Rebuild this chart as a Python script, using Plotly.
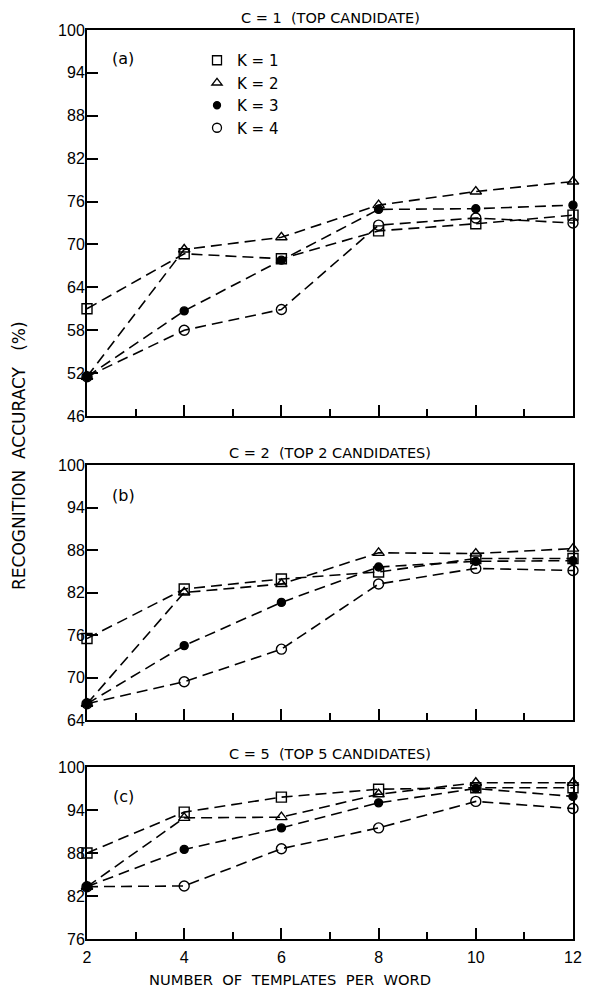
import plotly.graph_objects as go

x_templates = [2, 4, 6, 8, 10, 12]

# Panel (a): C = 1
a_k1 = [61.0, 68.7, 68.0, 71.9, 72.9, 74.1]
a_k2 = [51.5, 69.3, 71.0, 75.5, 77.4, 78.8]
a_k3 = [51.5, 60.7, 67.8, 74.9, 75.0, 75.5]
a_k4 = [51.5, 58.0, 60.9, 72.7, 73.7, 73.0]

# Panel (b): C = 2
b_k1 = [75.5, 82.5, 83.9, 84.9, 86.8, 86.8]
b_k2 = [66.3, 82.0, 83.2, 87.6, 87.5, 88.2]
b_k3 = [66.3, 74.5, 80.6, 85.6, 86.4, 86.5]
b_k4 = [66.3, 69.4, 74.0, 83.2, 85.4, 85.1]

# Panel (c): C = 5
c_k1 = [88.0, 93.7, 95.8, 96.9, 97.1, 97.1]
c_k2 = [83.3, 92.9, 93.0, 96.2, 97.8, 97.8]
c_k3 = [83.3, 88.5, 91.5, 95.0, 97.0, 95.9]
c_k4 = [83.3, 83.4, 88.6, 91.5, 95.2, 94.2]

series_names = ["K = 1", "K = 2", "K = 3", "K = 4"]
panel_titles = ["C = 1  (TOP CANDIDATE)", "C = 2  (TOP 2 CANDIDATES)", "C = 5  (TOP 5 CANDIDATES)"]
panel_labels = ["(a)", "(b)", "(c)"]
y_ticks_a = [46, 52, 58, 64, 70, 76, 82, 88, 94, 100]
y_ticks_b = [64, 70, 76, 82, 88, 94, 100]
y_ticks_c = [76, 82, 88, 94, 100]
x_ticks = [2, 4, 6, 8, 10, 12]

panels = [
    [a_k1, a_k2, a_k3, a_k4],
    [b_k1, b_k2, b_k3, b_k4],
    [c_k1, c_k2, c_k3, c_k4],
]
y_ticks = [y_ticks_a, y_ticks_b, y_ticks_c]

FONT = "Liberation Sans, Arial, sans-serif"
TFONT = "DejaVu Sans, sans-serif"
symbols = ["square-open", "triangle-up-open", "circle", "circle-open"]
msizes = [10, 10, 8, 10]

# page is offset by the body margin (8px); work in page pixels
OFF = 8
W, H = 600, 995
ml = 87 - OFF
mr = W - (573 - OFF)
mt = 30 - OFF
mb = H - (939 - OFF)
ph = H - mt - mb
pw = W - ml - mr

def py(pix):
    return (H - mb - (pix - OFF)) / ph

def px(pix):
    return (pix - OFF - ml) / pw

domains = [
    [py(416), py(30)],
    [py(720), py(465)],
    [py(939), py(767)],
]

fig = go.Figure()
for i, series in enumerate(panels):
    xa = "x" if i == 0 else f"x{i+1}"
    ya = "y" if i == 0 else f"y{i+1}"
    for k, vals in enumerate(series):
        fig.add_trace(go.Scatter(
            x=x_templates, y=vals, xaxis=xa, yaxis=ya,
            mode="lines+markers", showlegend=False, cliponaxis=False,
            line=dict(color="black", width=1.6, dash="11px,6px"),
            marker=dict(symbol=symbols[k], size=msizes[k], color="black",
                        line=dict(color="black", width=1.4)),
        ))

# legend-only entries (markers only)
for k, name in enumerate(series_names):
    fig.add_trace(go.Scatter(
        x=[None], y=[None], mode="markers", name=name,
        marker=dict(symbol=symbols[k], size=msizes[k] - 1, color="black",
                    line=dict(color="black", width=1.3)),
    ))

layout = dict(
    width=W, height=H,
    margin=dict(l=ml, r=mr, t=mt, b=mb),
    paper_bgcolor="white", plot_bgcolor="white",
    font=dict(family=FONT, size=15, color="black"),
    showlegend=True,
    legend=dict(x=px(197), y=py(44), xanchor="left", yanchor="top",
                font=dict(family=TFONT, size=15), itemwidth=30, tracegroupgap=0,
                bgcolor="rgba(0,0,0,0)"),
)

for i in range(3):
    xk = "xaxis" if i == 0 else f"xaxis{i+1}"
    yk = "yaxis" if i == 0 else f"yaxis{i+1}"
    ya = "y" if i == 0 else f"y{i+1}"
    xa = "x" if i == 0 else f"x{i+1}"
    layout[xk] = dict(
        domain=[0, 1], anchor=ya, range=[2, 12],
        tickvals=x_ticks, ticks="inside", ticklen=11, tickwidth=1.5, tickcolor="black",
        minor=dict(dtick=1, tick0=2, ticks="inside", ticklen=7, tickwidth=1.5, tickcolor="black"),
        showticklabels=(i == 2), showgrid=False, zeroline=False,
        showline=True, linecolor="black", linewidth=2, mirror=True,
        tickfont=dict(family=FONT, size=16), ticklabelstandoff=3,
    )
    layout[yk] = dict(
        domain=domains[i], anchor=xa, range=[y_ticks[i][0], y_ticks[i][-1]],
        tickvals=y_ticks[i], ticks="inside", ticklen=11, tickwidth=1.5, tickcolor="black",
        showgrid=False, zeroline=False,
        showline=True, linecolor="black", linewidth=2, mirror=True,
        tickfont=dict(family=FONT, size=16), ticklabelstandoff=-3,
    )

fig.update_layout(**layout)

title_y = [18, 453, 754]
for i, t in enumerate(panel_titles):
    fig.add_annotation(text=t, xref="paper", yref="paper", x=px(330), y=py(title_y[i]),
                       showarrow=False, xanchor="center", yanchor="middle",
                       font=dict(family=TFONT, size=14.5))

label_y = [58, 495, 796]
for i, t in enumerate(panel_labels):
    fig.add_annotation(text=t, xref="paper", yref="paper", x=px(123),
                       y=py(label_y[i]), showarrow=False, xanchor="center", yanchor="middle",
                       font=dict(family=TFONT, size=16))

fig.add_annotation(text="NUMBER  OF  TEMPLATES  PER  WORD", xref="paper", yref="paper",
                   x=px(290), y=py(979), showarrow=False, xanchor="center", yanchor="middle",
                   font=dict(family=TFONT, size=14.7))

fig.add_annotation(text="RECOGNITION  ACCURACY   (%)", xref="paper", yref="paper",
                   x=px(19), y=py(456), textangle=-90,
                   showarrow=False, xanchor="center", yanchor="middle",
                   font=dict(family=TFONT, size=17))

fig.write_html("out.html")
